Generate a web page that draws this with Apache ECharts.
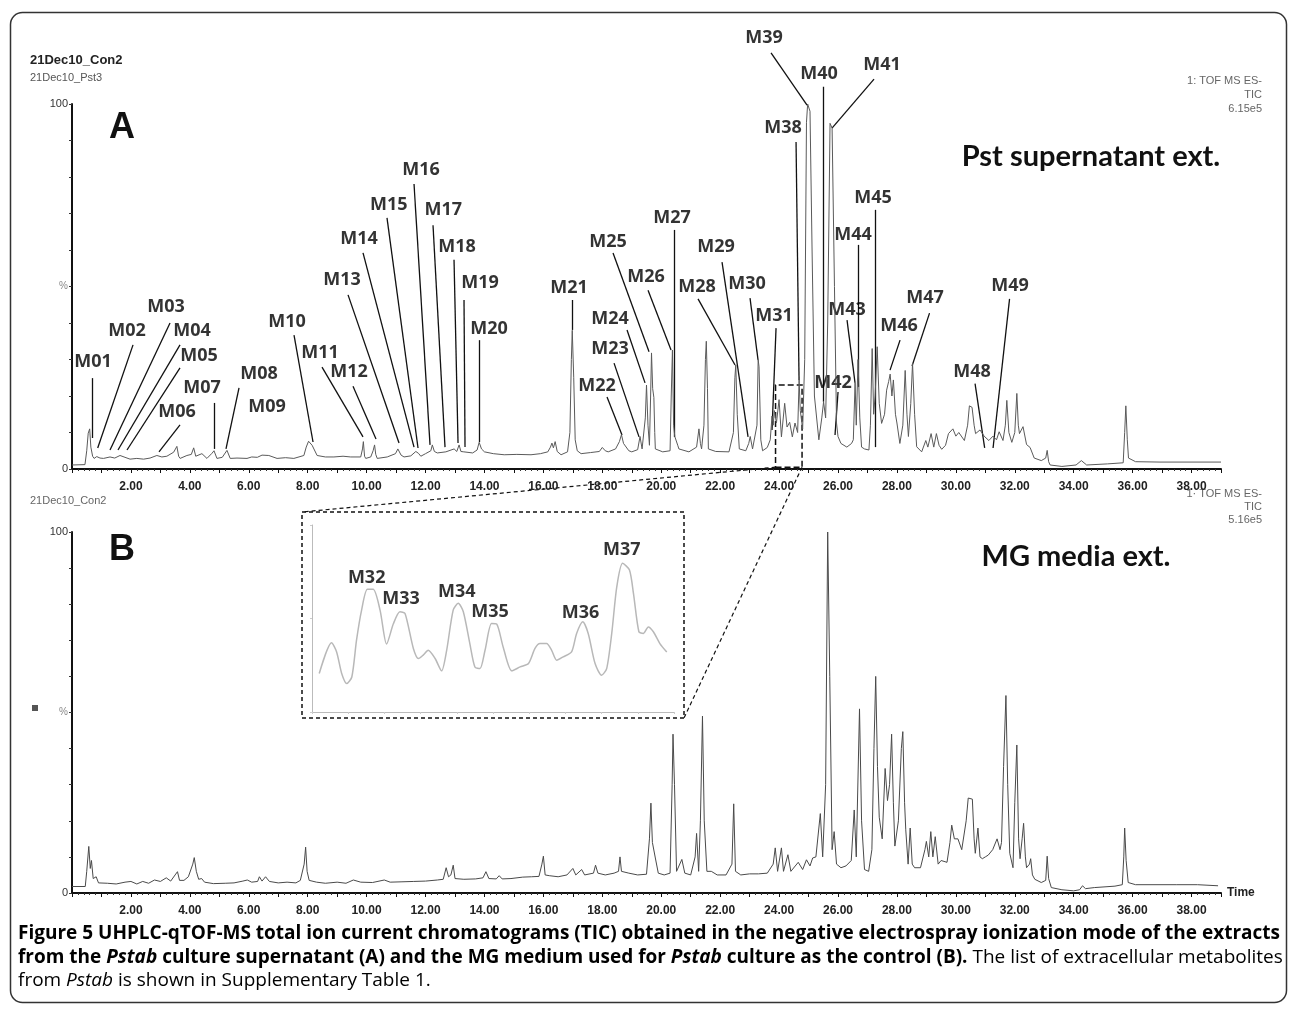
<!DOCTYPE html>
<html><head><meta charset="utf-8">
<script src="https://cdn.jsdelivr.net/npm/echarts@6/dist/echarts.min.js"></script>
<style>html,body{margin:0;padding:0;background:#fff}#c{width:1290px;height:1014px}</style>
</head><body><div id="c"></div>
<script>
// ---------------- DATA ----------------
const timeTickLabels = ['2.00','4.00','6.00','8.00','10.00','12.00','14.00','16.00','18.00','20.00','22.00','24.00','26.00','28.00','30.00','32.00','34.00','36.00','38.00'];

// Panel A: Pst supernatant extract TIC  [time (min), relative intensity %]
const traceA = [[0.0,1.1],[0.44,1.2],[0.5,5],[0.55,9.8],[0.6,11],[0.64,6],[0.7,3.5],[0.75,2.9],[0.84,3.4],[0.95,3.0],[1.07,2.9],[1.29,3.3],[1.45,3.0],[1.63,3.7],[1.8,3.2],[1.97,2.7],[2.2,2.9],[2.43,2.7],[2.65,3.0],[2.88,3.7],[3.05,3.3],[3.22,3.5],[3.45,4.6],[3.56,6.2],[3.62,3.5],[3.67,2.9],[3.9,3.7],[4.05,4.0],[4.13,5.8],[4.2,3.5],[4.24,3.2],[4.41,4.2],[4.58,2.9],[4.75,4.3],[4.82,5.0],[4.92,2.9],[5.1,3.2],[5.26,5.1],[5.37,2.9],[5.6,3.0],[5.94,2.9],[6.1,3.3],[6.29,3.2],[6.45,3.8],[6.51,4.2],[6.68,3.7],[6.96,2.9],[7.25,3.1],[7.53,2.9],[7.87,3.7],[7.95,6.0],[8.03,7.6],[8.15,6.5],[8.32,3.7],[8.6,3.3],[8.89,3.3],[9.2,3.5],[9.46,3.3],[9.8,3.3],[9.86,5.5],[9.89,7.5],[9.93,3.5],[9.97,2.9],[10.14,3.3],[10.22,5],[10.27,6.6],[10.31,4],[10.36,2.9],[10.7,3.3],[10.98,4.2],[11.06,5.5],[11.1,6.0],[11.17,3.8],[11.27,3.3],[11.5,3.6],[11.67,4.8],[11.76,4.3],[11.84,3.5],[12.0,4.2],[12.18,5],[12.23,6.6],[12.3,4.8],[12.4,4.4],[12.69,4.7],[12.97,5.5],[13.06,4.8],[13.14,6.6],[13.2,4.8],[13.3,4.7],[13.6,4.4],[13.75,5.2],[13.82,7.3],[13.9,5.5],[14.0,4.7],[14.3,4.2],[14.67,3.9],[15.1,4.0],[15.58,3.9],[15.9,4.2],[16.15,4.7],[16.24,6.0],[16.29,7.1],[16.34,5.8],[16.4,7.5],[16.47,4.8],[16.6,3.9],[16.82,4.7],[16.9,10],[16.95,30],[16.98,38],[17.03,25],[17.08,8],[17.15,5.0],[17.28,4.2],[17.6,4.5],[17.9,4.8],[18.0,5.9],[18.1,5.0],[18.2,4.7],[18.45,5.5],[18.58,7.5],[18.65,9.4],[18.72,7.0],[18.77,6.5],[18.9,5.0],[19.0,4.7],[19.2,5.3],[19.28,8.9],[19.35,5.5],[19.4,5.0],[19.46,14],[19.5,23],[19.55,12],[19.6,6.5],[19.64,20],[19.67,31.8],[19.71,22],[19.75,19.6],[19.78,10],[19.8,5.5],[20.05,4.7],[20.3,5.0],[20.34,20],[20.38,32.6],[20.42,12],[20.46,8.9],[20.5,8.5],[20.56,6.5],[20.6,5.5],[20.94,4.7],[21.2,6],[21.28,11],[21.33,7],[21.37,5.5],[21.45,12],[21.5,30],[21.53,35],[21.57,22],[21.6,5.5],[21.85,4.8],[22.3,4.7],[22.45,10],[22.5,25],[22.53,28.5],[22.58,15],[22.65,5.5],[22.87,5.0],[22.97,7],[23.02,8.9],[23.1,5.5],[23.16,5.0],[23.25,12],[23.29,30],[23.32,28],[23.38,8],[23.44,5.0],[23.6,5.9],[23.7,8],[23.76,14.5],[23.8,12],[23.84,16],[23.91,12.6],[24.0,19],[24.08,8.8],[24.19,18],[24.27,11.5],[24.36,12.8],[24.45,8.8],[24.54,12.6],[24.63,10],[24.68,24.4],[24.72,16],[24.8,11],[24.87,30],[24.93,95],[24.97,100],[25.05,98],[25.12,60],[25.2,20],[25.35,8],[25.45,14],[25.51,18.4],[25.58,14],[25.65,40],[25.73,94.7],[25.8,93.4],[25.88,50],[25.95,12.6],[26.0,8.9],[26.1,7],[26.3,6],[26.46,7],[26.52,8],[26.58,23.6],[26.62,12],[26.68,30],[26.74,14],[26.8,6],[26.9,5.5],[27.05,5.2],[27.1,12],[27.16,33],[27.21,15],[27.26,20],[27.33,33.5],[27.4,18],[27.48,12.5],[27.58,15],[27.65,21.6],[27.72,24],[27.77,26],[27.83,20],[27.88,24.4],[27.95,15],[28.0,12.6],[28.1,7],[28.2,12],[28.28,27],[28.34,15],[28.39,8.9],[28.47,18],[28.53,29],[28.6,15],[28.67,6.1],[28.84,4.7],[28.98,7.8],[29.05,6],[29.16,9.7],[29.25,6],[29.34,9.7],[29.43,6.5],[29.52,5.4],[29.65,6.5],[29.75,9.7],[29.9,11],[30.0,9],[30.1,10],[30.29,7.8],[30.4,12],[30.46,17.3],[30.55,16.9],[30.62,12],[30.67,9.7],[30.82,10.7],[30.96,9],[31.12,7.8],[31.26,9],[31.38,8],[31.47,10.2],[31.6,7.8],[31.68,12],[31.73,18.8],[31.8,10],[31.9,7.3],[32.0,10],[32.07,20.7],[32.12,12],[32.16,9.7],[32.28,11.6],[32.4,6.7],[32.52,5.9],[32.66,3],[32.9,2.3],[33.05,3],[33.1,5.1],[33.15,2],[33.2,1.1],[33.6,0.7],[34.08,1.1],[34.26,2.3],[34.44,1.1],[35.15,1.4],[35.68,1.7],[35.73,10],[35.77,17.3],[35.82,8],[35.86,3],[36.1,2],[36.93,1.9],[39.0,1.9]];

// Panel B: MG medium extract TIC  [time (min), relative intensity %]
const traceB = [[0,1.8],[0.45,1.8],[0.5,6],[0.57,12.9],[0.62,6.8],[0.66,9],[0.72,4],[0.82,4.5],[0.9,2.8],[1.2,2.7],[1.5,2.5],[1.8,3.0],[2.0,3.2],[2.2,2.5],[2.4,3.2],[2.6,2.7],[2.8,3.6],[3.0,3.2],[3.2,4.2],[3.35,3.3],[3.5,5],[3.58,5.9],[3.65,3.5],[3.8,3.5],[3.95,4.5],[4.1,8],[4.15,9.8],[4.22,6],[4.3,3.8],[4.4,4],[4.5,3.0],[4.8,2.6],[5.2,2.7],[5.5,2.8],[5.8,3.3],[5.95,3.6],[6.1,3.0],[6.3,3.2],[6.36,4.5],[6.45,3.3],[6.57,4.5],[6.7,3.2],[7.0,2.8],[7.3,3.0],[7.6,2.8],[7.75,3.5],[7.88,8],[7.93,12.7],[7.98,6],[8.05,3.5],[8.3,3.0],[8.6,2.7],[9.0,3.0],[9.3,2.7],[9.55,3.6],[9.8,3.0],[10.2,2.9],[10.6,3.6],[10.8,3.0],[11.2,3.1],[11.6,3.2],[12.0,3.3],[12.4,3.6],[12.6,3.8],[12.7,7],[12.78,4.5],[12.86,5],[12.94,7.7],[13.0,4],[13.3,3.8],[13.7,3.9],[13.95,4.2],[14.05,5.9],[14.15,4],[14.4,3.9],[14.5,4.8],[14.6,3.9],[14.9,4.0],[15.3,4.4],[15.6,4.5],[15.85,4.6],[15.95,8],[16.0,10.2],[16.06,5],[16.2,4.8],[16.5,4.5],[16.8,5],[17.0,6.8],[17.1,5],[17.3,6.5],[17.4,5],[17.7,5.5],[17.77,7.7],[17.85,5.5],[18.1,5],[18.4,5.5],[18.55,6],[18.6,10],[18.65,6],[18.9,5.5],[19.2,5],[19.5,5.2],[19.6,15],[19.65,24.9],[19.7,14],[19.8,9.7],[19.9,5.5],[20.1,5],[20.3,5.5],[20.37,30],[20.4,44],[20.45,30],[20.52,6],[20.7,9.3],[20.8,5.5],[21.0,5],[21.15,10],[21.2,16.5],[21.27,6],[21.33,20],[21.4,49],[21.46,20],[21.55,6],[21.7,6],[21.9,5],[22.2,5],[22.4,8],[22.46,24.7],[22.52,6],[22.7,5],[23.0,5.3],[23.3,5.3],[23.6,5.5],[23.8,8],[23.87,12.5],[23.95,6],[24.08,12.5],[24.15,6],[24.3,10.6],[24.4,6],[24.65,8.5],[24.8,6.5],[24.93,9.2],[25.05,7.5],[25.14,9.7],[25.25,10],[25.4,22],[25.48,10],[25.58,30],[25.65,100],[25.72,60],[25.8,12],[25.87,17],[25.95,8],[26.1,7],[26.27,7.5],[26.45,9],[26.55,23],[26.62,10],[26.73,51],[26.8,20],[26.9,6.5],[27.04,6],[27.15,12],[27.22,40],[27.28,60],[27.34,35],[27.4,21],[27.5,15],[27.6,34.5],[27.68,25.6],[27.75,30],[27.82,44],[27.88,25],[27.93,13],[28.05,20],[28.15,40],[28.2,44.7],[28.26,25],[28.3,17.5],[28.38,8],[28.45,18],[28.52,8],[28.6,7],[28.8,7],[28.95,12],[29.0,14.3],[29.08,10],[29.15,17],[29.22,10],[29.3,15.6],[29.4,8],[29.5,9],[29.7,8.5],[29.8,14],[29.86,18.8],[29.95,15],[30.07,15],[30.2,12],[30.35,20],[30.42,26.3],[30.56,26],[30.62,15],[30.66,11],[30.75,18],[30.82,10],[30.9,9.5],[31.0,10],[31.1,10.5],[31.25,12],[31.4,15],[31.5,12],[31.55,14],[31.62,35],[31.7,54.7],[31.76,30],[31.83,11],[31.94,7],[32.0,25],[32.07,41],[32.13,15],[32.18,9.5],[32.25,15],[32.3,19.3],[32.36,10],[32.4,7],[32.5,8],[32.54,9.5],[32.6,5],[32.68,3.8],[32.9,2.9],[33.05,3.5],[33.1,10.2],[33.15,4],[33.24,1.5],[33.6,0.9],[34.0,0.6],[34.2,0.9],[34.3,2.0],[34.4,1.2],[34.7,1.5],[35.4,1.9],[35.65,2.3],[35.7,10],[35.73,18],[35.78,9],[35.85,2.9],[36.1,2.3],[37.5,2.3],[38.2,2.3],[38.9,2.0]];

// Inset: enlarged 23.8–24.8 min window of panel A  [time, % of inset scale]
const traceInset = [[23.820,20.6],[23.854,37.0],[23.868,32.1],[23.882,20.6],[23.896,15.2],[23.910,18.7],[23.923,38.4],[23.937,54.5],[23.953,65.6],[23.969,65.6],[23.988,54.5],[24.006,36.3],[24.025,47.3],[24.043,53.6],[24.057,52.7],[24.080,34.0],[24.094,28.6],[24.107,30.4],[24.121,33.0],[24.140,28.6],[24.158,22.0],[24.172,33.0],[24.190,54.5],[24.204,58.1],[24.218,53.6],[24.236,36.6],[24.250,24.1],[24.264,23.2],[24.278,33.0],[24.296,47.3],[24.310,47.0],[24.328,34.8],[24.352,22.0],[24.375,24.1],[24.398,25.9],[24.416,34.0],[24.430,36.6],[24.448,36.6],[24.462,33.0],[24.476,27.7],[24.494,29.5],[24.517,32.1],[24.531,42.0],[24.548,48.2],[24.563,42.0],[24.582,25.9],[24.600,19.7],[24.614,23.2],[24.628,42.0],[24.642,67.0],[24.658,79.5],[24.677,75.9],[24.688,63.4],[24.703,42.9],[24.715,42.0],[24.729,45.5],[24.743,42.9],[24.761,36.6],[24.780,32.1]];

// Peak annotations for panel A: [name, label t, label %, leader start t, %, leader end t, %]
const annotA = [
 ['M01',0.713,29.3,0.703,24.9,0.703,8.5],['M02',1.867,37.8,2.071,34.0,0.872,5.75],['M03',3.191,44.4,3.327,40.0,1.290,5.2],
 ['M04',4.073,37.8,3.666,34.0,1.561,5.2],['M05',4.311,31.0,3.666,27.7,1.867,5.2],['M06',3.564,15.6,3.666,12.1,2.953,4.7],
 ['M07',4.413,22.2,4.820,18.1,4.820,5.5],['M08',6.348,26.0,5.669,22.2,5.227,5.5],['M09',6.619,17.0],
 ['M10',7.298,40.3,7.536,36.7,8.181,7.4],['M11',8.418,31.8,8.486,27.9,9.878,8.8],['M12',9.403,26.6,9.538,22.7,10.319,8.2],
 ['M13',9.165,51.8,9.369,47.7,11.100,7.1],['M14',9.742,63.0,9.878,59.2,11.609,6.0],['M15',10.75,72.3,10.692,68.8,11.745,5.75],
 ['M16',11.85,81.9,11.609,78.1,12.152,6.6],['M17',12.60,71.0,12.254,66.8,12.661,6.0],['M18',13.068,60.8,12.967,57.3,13.103,7.1],
 ['M19',13.849,51.0,13.306,46.3,13.340,6.0],['M20',14.155,38.4,13.815,35.3,13.815,7.4],['M21',16.870,49.6,16.972,46.3,16.972,38.1],
 ['M22',17.821,22.7,18.160,19.7,18.669,9.3],['M23',18.262,32.9,18.398,29.0,19.246,8.8],['M24',18.262,41.1,18.839,38.1,19.450,23.6],
 ['M25',18.194,62.2,18.364,59.2,19.586,32.1],['M26',19.484,52.6,19.552,49.0,20.333,32.6],['M27',20.367,68.8,20.434,65.5,20.434,8.8],
 ['M28',21.215,49.9,21.249,46.6,22.505,28.5],['M29',21.860,60.8,22.064,56.7,22.947,8.8],['M30',22.912,50.7,23.014,46.8,23.286,29.9],
 ['M31',23.829,41.9,23.897,38.6,23.761,10.7],['M38',24.134,93.4,24.576,89.6,24.678,24.4],['M39',23.489,118.1,23.727,114.0,24.949,99.7],
 ['M40',25.356,108.2,25.509,104.7,25.509,18.4],['M41',27.495,110.7,27.223,106.8,25.797,93.4],['M42',25.832,23.6,26.001,21.1,25.899,9.3],
 ['M43',26.307,43.6,26.307,40.8,26.578,23.6],['M44',26.510,64.1,26.680,61.4,26.680,22.5],['M45',27.189,74.2,27.257,71.0,27.257,6.0],
 ['M46',28.072,39.2,28.106,35.3,27.766,27.1],['M47',28.955,46.8,29.107,42.7,28.513,28.2],['M48',30.550,26.6,30.652,23.4,30.978,5.8],
 ['M49',31.840,50.1,31.823,46.6,31.263,5.75]
];
// Inset peak labels: [name, t, %]
const annotInset = [['M32',23.951,71.8],['M33',24.046,60.4],['M34',24.200,64.3],['M35',24.292,53.6],['M36',24.542,53.2],['M37',24.656,86.6]];
// Zoomed window in panel A (t0, %0, t1, %1)
const zoomWindow = [23.88, 0.5, 24.78, 23.0];

// ---------------- CHART ----------------
const chart = echarts.init(document.getElementById('c'), null, {renderer:'canvas'});
const labelFont = 'Open Sans';

function xAxisCfg(gi, withName){
  return {
    gridIndex: gi, type:'value', min:0, max:39, interval:1,
    name: withName ? 'Time' : '', nameLocation:'end', nameGap:6,
    nameTextStyle:{fontFamily:'Arial', fontWeight:'bold', fontSize:12, color:'#222'},
    axisLine:{lineStyle:{color:'#111', width:2}},
    axisTick:{show:true, length:4, lineStyle:{color:'#111', width:1}},
    minorTick:{show:true, splitNumber:5, length:2, lineStyle:{color:'#333'}},
    splitLine:{show:false}, minorSplitLine:{show:false},
    axisLabel:{margin:12, fontFamily:'Arial', fontWeight:'bold', fontSize:12, color:'#222',
      formatter: v => (v > 0 && v % 2 === 0) ? timeTickLabels[v/2 - 1] : ''}
  };
}
function yAxisCfg(gi){
  return {
    gridIndex: gi, type:'value', min:0, max:100, interval:10,
    axisLine:{show:true, lineStyle:{color:'#111', width:2}},
    axisTick:{show:true, length:3, lineStyle:{color:'#333'}},
    splitLine:{show:false},
    axisLabel:{margin:4, fontFamily:'Arial', fontSize:11, color:'#333',
      formatter: v => v === 100 ? '100' : v === 0 ? '0' : v === 50 ? '{p|%}' : '',
      rich:{p:{fontSize:10, color:'#888', fontFamily:'Arial'}}}
  };
}

const option = {
  animation:false,
  backgroundColor:'#fff',
  grid:[
    {left:72, top:104, width:1149, height:365},
    {left:72, top:532, width:1149, height:361},
    {left:312, top:525, width:362, height:187}
  ],
  xAxis:[
    xAxisCfg(0,false), xAxisCfg(1,true),
    {gridIndex:2, type:'value', min:23.8, max:24.8, interval:0.1,
     axisLine:{lineStyle:{color:'#bbb', width:1}}, axisTick:{show:true, length:2, lineStyle:{color:'#ccc'}},
     axisLabel:{show:false}, splitLine:{show:false}}
  ],
  yAxis:[
    yAxisCfg(0), yAxisCfg(1),
    {gridIndex:2, type:'value', min:0, max:100, interval:50,
     axisLine:{show:true, lineStyle:{color:'#bbb', width:1}}, axisTick:{show:true, length:2, lineStyle:{color:'#ccc'}},
     axisLabel:{show:false}, splitLine:{show:false}}
  ],
  series:[
    {type:'line', xAxisIndex:0, yAxisIndex:0, data:traceA, showSymbol:false, symbol:'none',
     lineStyle:{color:'#5a5a5a', width:1}, silent:true,
     markArea:{silent:true, itemStyle:{color:'rgba(0,0,0,0)', borderColor:'#111', borderWidth:1.5, borderType:'dashed'},
       data:[[{coord:[zoomWindow[0], zoomWindow[1]]},{coord:[zoomWindow[2], zoomWindow[3]]}]]}},
    {type:'line', xAxisIndex:1, yAxisIndex:1, data:traceB, showSymbol:false, symbol:'none',
     lineStyle:{color:'#4a4a4a', width:1}, silent:true},
    {type:'line', xAxisIndex:2, yAxisIndex:2, data:traceInset, showSymbol:false, symbol:'none', smooth:0.25,
     lineStyle:{color:'#b8b8b8', width:1.5}, silent:true},
    {type:'lines', coordinateSystem:'cartesian2d', xAxisIndex:0, yAxisIndex:0, clip:false, silent:true,
     data: annotA.filter(a => a.length > 3).map(a => ({coords:[[a[3],a[4]],[a[5],a[6]]]})),
     lineStyle:{color:'#111', width:1.3, opacity:1}},
    {type:'scatter', xAxisIndex:0, yAxisIndex:0, clip:false, silent:true, symbolSize:1,
     itemStyle:{color:'rgba(0,0,0,0)'},
     data: annotA.map(a => ({name:a[0], value:[a[1],a[2]]})),
     label:{show:true, position:'inside', formatter:'{b}', fontFamily:labelFont, fontWeight:'bold', fontSize:18, color:'#000'}},
    {type:'scatter', xAxisIndex:2, yAxisIndex:2, clip:false, silent:true, symbolSize:1,
     itemStyle:{color:'rgba(0,0,0,0)'},
     data: annotInset.map(a => ({name:a[0], value:[a[1],a[2]]})),
     label:{show:true, position:'inside', formatter:'{b}', fontFamily:labelFont, fontWeight:'bold', fontSize:18, color:'#000'}}
  ]
};
chart.setOption(option);

// ---------- texts and frames ----------
function txt(text, x, y, opts){
  return Object.assign({type:'text', silent:true, style:Object.assign({text:text, x:x, y:y, fill:'#222',
    textAlign:'left', textVerticalAlign:'middle', align:'left', verticalAlign:'middle'}, opts || {})});
}
function al(o, a){ o.style.textAlign = a; o.style.align = a; return o; }

// caption: condensed by horizontal scaling to fit the measured width
const capFont = 'Open Sans';
const capSize = 19;
const capStyles = {
  b:{fontWeight:'bold', fontStyle:'normal', color:'#1e1e1e'},
  bi:{fontWeight:'bold', fontStyle:'italic', color:'#1e1e1e'},
  r:{fontWeight:'normal', fontStyle:'normal', color:'#6a6a6a'},
  ri:{fontWeight:'normal', fontStyle:'italic', color:'#6a6a6a'}
};
const capLines = [
  [['b','Figure 5 UHPLC-qTOF-MS total ion current chromatograms (TIC) obtained in the negative electrospray ionization mode of the extracts']],
  [['b','from the '],['bi','Pstab'],['b',' culture supernatant (A) and the MG medium used for '],['bi','Pstab'],['b',' culture as the control (B).'],['r',' The list of extracellular metabolites']],
  [['r','from '],['ri','Pstab'],['r',' is shown in Supplementary Table 1.']]
];
const mctx = document.createElement('canvas').getContext('2d');
function measure(line){
  let w = 0;
  line.forEach(([k,t]) => { const s = capStyles[k]; mctx.font = s.fontStyle + ' ' + s.fontWeight + ' ' + capSize + 'px "' + capFont + '"'; w += mctx.measureText(t).width; });
  return w;
}
const capScale = (1280 - 18) / measure(capLines[0]);
const rich = {};
Object.keys(capStyles).forEach(k => { rich[k] = Object.assign({fontFamily:capFont, fontSize:capSize}, capStyles[k]); });
const capY = [934, 958, 981];

const graphics = [
  {type:'rect', silent:true, shape:{x:10.5, y:12.5, width:1276, height:990, r:12}, style:{fill:'none', stroke:'#333', lineWidth:1.5}},
  txt('21Dec10_Con2', 30, 60, {font:'bold 13px Arial', fill:'#222'}),
  txt('21Dec10_Pst3', 30, 78, {font:'11px Arial', fill:'#555'}),
  al(txt('1: TOF MS ES-', 1262, 81, {font:'11px Arial', fill:'#666'}),'right'),
  al(txt('TIC', 1262, 95, {font:'11px Arial', fill:'#666'}),'right'),
  al(txt('6.15e5', 1262, 109, {font:'11px Arial', fill:'#666'}),'right'),
  al(txt('A', 122, 128, {font:'bold 36px Arial', fill:'#111'}),'center'),
  al(txt('Pst supernatant ext.', 1091, 157, {font:'bold 29px Lato', fill:'#111'}),'center'),
  txt('21Dec10_Con2', 30, 501, {font:'11px Arial', fill:'#666'}),
  al(txt('1· TOF MS ES-', 1262, 494, {font:'11px Arial', fill:'#666'}),'right'),
  al(txt('TIC', 1262, 507, {font:'11px Arial', fill:'#666'}),'right'),
  al(txt('5.16e5', 1262, 520, {font:'11px Arial', fill:'#666'}),'right'),
  al(txt('B', 122, 550, {font:'bold 36px Arial', fill:'#111'}),'center'),
  al(txt('MG media ext.', 1076, 557, {font:'bold 29px Lato', fill:'#111'}),'center'),
  {type:'rect', silent:true, shape:{x:32, y:705, width:6, height:6}, style:{fill:'#555'}},
  {type:'rect', silent:true, shape:{x:302, y:512, width:382, height:206}, style:{fill:'none', stroke:'#111', lineWidth:1.5, lineDash:[4,3]}}
];
capLines.forEach((line, i) => {
  const s = line.map(([k,t]) => '{' + k + '|' + t + '}').join('');
  graphics.push({type:'text', silent:true, x:18, y:capY[i], scaleX:capScale, originX:0, originY:0,
    style:{text:s, x:0, y:0, rich:rich, textVerticalAlign:'middle', verticalAlign:'middle', textAlign:'left', align:'left'}});
});
// connector lines from zoom window in A to the inset frame
const pL = chart.convertToPixel({gridIndex:0}, [zoomWindow[0], zoomWindow[1]]);
const pR = chart.convertToPixel({gridIndex:0}, [zoomWindow[2], zoomWindow[1]]);
graphics.push({type:'line', silent:true, shape:{x1:pL[0], y1:pL[1], x2:302, y2:512}, style:{stroke:'#111', lineWidth:1.2, lineDash:[4,3]}});
graphics.push({type:'line', silent:true, shape:{x1:pR[0], y1:pR[1], x2:684, y2:718}, style:{stroke:'#111', lineWidth:1.2, lineDash:[4,3]}});

chart.setOption({graphic:graphics});
</script></body></html>
